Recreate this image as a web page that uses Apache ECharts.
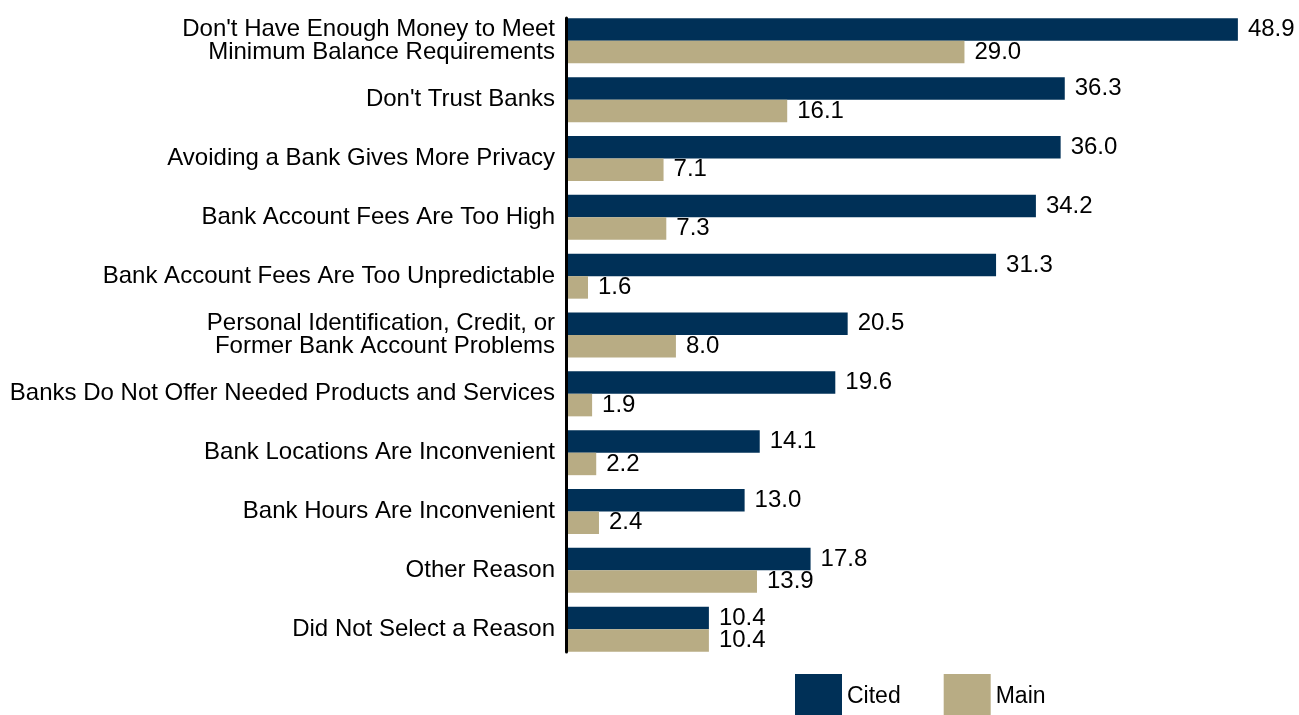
<!DOCTYPE html>
<html><head><meta charset="utf-8">
<script src="https://cdn.jsdelivr.net/npm/echarts@6/dist/echarts.min.js"></script>
<style>html,body{margin:0;padding:0;background:#fff}#c{width:1299px;height:715px}</style>
</head><body><div id="c"></div>
<script>
const categories = [
  "Don't Have Enough Money to Meet\nMinimum Balance Requirements",
  "Don't Trust Banks",
  "Avoiding a Bank Gives More Privacy",
  "Bank Account Fees Are Too High",
  "Bank Account Fees Are Too Unpredictable",
  "Personal Identification, Credit, or\nFormer Bank Account Problems",
  "Banks Do Not Offer Needed Products and Services",
  "Bank Locations Are Inconvenient",
  "Bank Hours Are Inconvenient",
  "Other Reason",
  "Did Not Select a Reason"
];
const cited = [48.9, 36.3, 36.0, 34.2, 31.3, 20.5, 19.6, 14.1, 13.0, 17.8, 10.4];
const main = [29.0, 16.1, 7.1, 7.3, 1.6, 8.0, 1.9, 2.2, 2.4, 13.9, 10.4];

const FONT = "'Liberation Sans', Arial, sans-serif";
const chart = echarts.init(document.getElementById('c'), null, {renderer: 'canvas'});
const lbl = {show: true, position: 'right', distance: 10, color: '#000', fontSize: 24, fontFamily: FONT,
  formatter: p => p.value.toFixed(1)};
chart.setOption({
  animation: false,
  backgroundColor: '#fff',
  legend: {
    data: ['Cited', 'Main'], left: 795, top: 674, padding: 0, itemWidth: 47, itemHeight: 45, itemGap: 43,
    icon: 'rect', textStyle: {fontSize: 23, fontFamily: FONT, color: '#000'}
  },
  grid: [
    {left: 566, right: 46, top: 11.4, height: 647.2, containLabel: false},
    {left: 566, width: 1, top: 18, height: 634, containLabel: false}
  ],
  xAxis: [
    {type: 'value', min: 0, max: 50, show: false, gridIndex: 0},
    {type: 'value', min: 0, max: 1, show: false, gridIndex: 1}
  ],
  yAxis: [
    {type: 'category', data: categories, inverse: true, gridIndex: 0,
      axisLine: {show: false}, axisTick: {show: false}, splitLine: {show: false},
      axisLabel: {color: '#000', fontSize: 24, fontFamily: FONT, margin: 11, lineHeight: 23, align: 'right'}},
    {type: 'value', min: 0, max: 1, gridIndex: 1, z: 10,
      axisLine: {show: true, lineStyle: {color: '#000', width: 3}}, axisTick: {show: false},
      axisLabel: {show: false}, splitLine: {show: false}}
  ],
  series: [
    {name: 'Cited', type: 'bar', data: cited, xAxisIndex: 0, yAxisIndex: 0,
      itemStyle: {color: '#003057'}, barGap: '0%', barCategoryGap: '23.5%', label: lbl},
    {name: 'Main', type: 'bar', data: main, xAxisIndex: 0, yAxisIndex: 0,
      itemStyle: {color: '#B8AC84'}, barGap: '0%', barCategoryGap: '23.5%', label: lbl}
  ]
});
</script></body></html>
